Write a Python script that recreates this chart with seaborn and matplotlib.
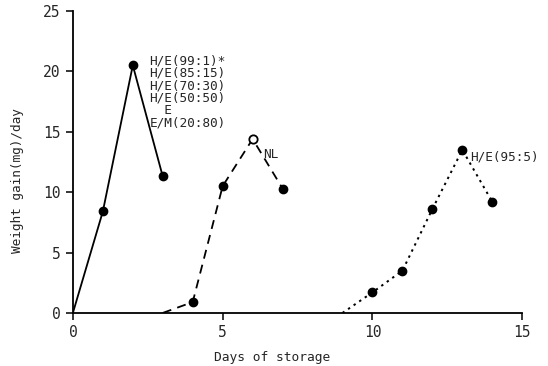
import matplotlib
matplotlib.use("Agg")
import matplotlib.pyplot as plt
import seaborn as sns
import pandas as pd

sns.set_style("ticks")
plt.rcParams["font.family"] = ["DejaVu Sans Mono"]

# Weight gain per day for three groups of samples
days_a = [0, 1, 2, 3]
gain_a = [0.0, 8.4, 20.5, 11.3]

days_nl = [3, 4, 5, 6, 7]
gain_nl = [0.0, 0.9, 10.5, 14.4, 10.3]

days_b = [9, 10, 11, 12, 13, 14]
gain_b = [0.0, 1.7, 3.5, 8.6, 13.5, 9.2]

group_a_labels = ["H/E(99:1)*", "H/E(85:15)", "H/E(70:30)", "H/E(50:50)", "  E", "E/M(20:80)"]
nl_label = "NL"
group_b_label = "H/E(95:5)"

x_ticks = [0, 5, 10, 15]
y_ticks = [0, 5, 10, 15, 20, 25]

df_a = pd.DataFrame({"day": days_a, "gain": gain_a})
df_nl = pd.DataFrame({"day": days_nl, "gain": gain_nl})
df_b = pd.DataFrame({"day": days_b, "gain": gain_b})

fig = plt.figure(figsize=(5.48, 3.66), dpi=100)
ax = fig.add_axes([0.133, 0.145, 0.820, 0.825])

lw = 1.3
sns.lineplot(data=df_a, x="day", y="gain", ax=ax, color="black", lw=lw)
sns.lineplot(data=df_nl, x="day", y="gain", ax=ax, color="black", lw=lw,
             linestyle=(0, (5, 3.5)))
sns.lineplot(data=df_b, x="day", y="gain", ax=ax, color="black", lw=lw * 1.1,
             linestyle=(0, (1.2, 2.2)))

ms = 6
ax.plot(df_a.day[1:], df_a.gain[1:], "o", color="black", ms=ms)
nl_open = df_nl.gain.idxmax()
ax.plot(df_nl.day[1:].drop(nl_open), df_nl.gain[1:].drop(nl_open), "o",
        color="black", ms=ms)
ax.plot(df_nl.day[nl_open], df_nl.gain[nl_open], "o", mfc="white",
        mec="black", mew=1.3, ms=ms)
ax.plot(df_b.day[1:], df_b.gain[1:], "o", color="black", ms=ms)

ax.text(2.55, 21.4, "\n".join(group_a_labels), fontsize=9.2, va="top",
        ha="left", linespacing=0.95)
ax.text(6.35, 12.6, nl_label, fontsize=9.2, va="bottom", ha="left")
ax.text(13.25, 12.4, group_b_label, fontsize=9.2, va="bottom", ha="left")

ax.set_xlim(0, 15)
ax.set_ylim(0, 25)
ax.set_xticks(x_ticks)
ax.set_yticks(y_ticks)
ax.tick_params(labelsize=10.5, length=5, width=1.1, color="black", pad=4)
ax.set_xlabel("Days of storage", fontsize=9.3)
ax.set_ylabel("Weight gain(mg)/day", fontsize=9.2)
ax.xaxis.set_label_coords(0.443, -0.125)
ax.yaxis.set_label_coords(-0.108, 0.44)
for s in ["left", "bottom"]:
    ax.spines[s].set_linewidth(1.3)
    ax.spines[s].set_color("black")
sns.despine(ax=ax)

fig.savefig("out.png", dpi=100)
